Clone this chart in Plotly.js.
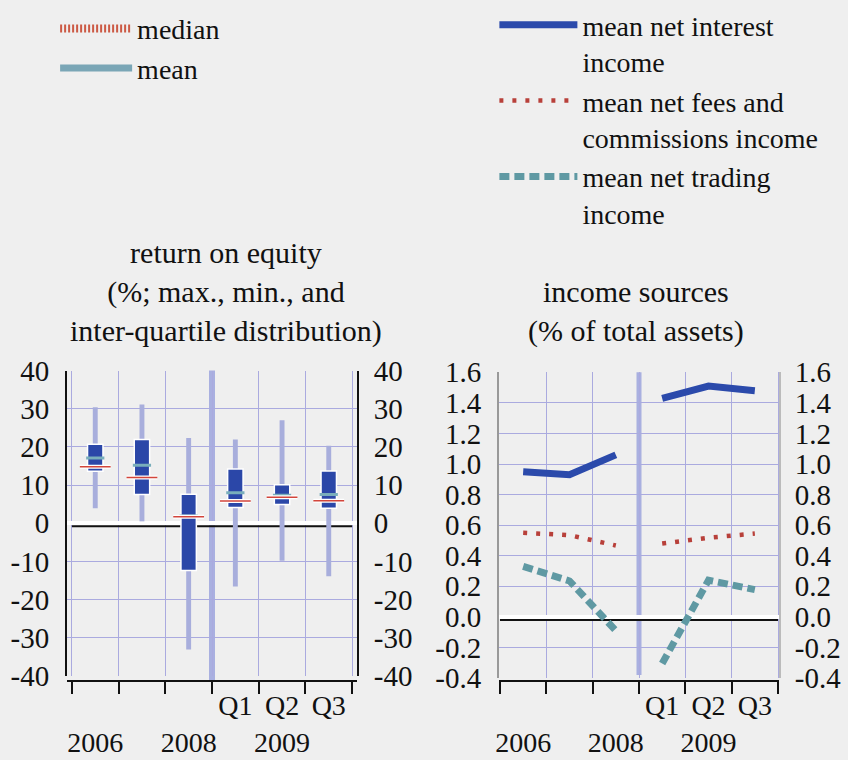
<!DOCTYPE html>
<html><head><meta charset="utf-8">
<script src="https://cdn.plot.ly/plotly-3.0.1.min.js"></script>
<style>html,body{margin:0;padding:0;background:#efefef;} #chart{width:848px;height:760px;}</style>
</head><body><div id="chart"></div>
<script>
// ---- data ----
const categories = ["2006", "2007", "2008", "Q1 2009", "Q2 2009", "Q3 2009"];
const xTickText = ["<br>2006", "", "<br>2008", "Q1", "Q2<br>2009", "Q3"];

// return on equity (%)
const roeMax    = [30.4, 31.1, 22.3, 21.9, 27.0, 20.3];
const roeMin    = [3.9, 0.5, -33.1, -16.6, -9.8, -13.9];
const roeQ3     = [20.7, 21.9, 7.6, 14.2, 10.1, 13.7];
const roeQ1     = [13.6, 7.5, -12.4, 4.1, 4.9, 3.9];
const roeMedian = [14.8, 12.0, 1.7, 5.8, 6.8, 5.9];
const roeMean   = [17.1, 15.2, 1.9, 8.0, 7.3, 7.5];
const roeTickVals = [-40, -30, -20, -10, 0, 10, 20, 30, 40];
const roeTickText = ["-40", "-30", "-20", "-10", "0", "10", "20", "30", "40"];

// income sources (% of total assets)
const netInterest = [0.95, 0.93, 1.06, 1.43, 1.51, 1.48];
const netFees     = [0.55, 0.535, 0.467, 0.48, 0.518, 0.545];
const netTrading  = [0.33, 0.235, -0.09, -0.305, 0.24, 0.178];
const incTickVals = [-0.4, -0.2, 0, 0.2, 0.4, 0.6, 0.8, 1.0, 1.2, 1.4, 1.6];
const incTickText = ["-0.4", "-0.2", "0.0", "0.2", "0.4", "0.6", "0.8", "1.0", "1.2", "1.4", "1.6"];

// ---- styling ----
const FONT = "'Liberation Serif', 'Times New Roman', Tinos, 'DejaVu Serif', serif";
const FS = 29;
const GRID = "#aaaadf";
const BOX = "#2b47a8";
const WHISK = "#a8aedc";

const diff = (a, b) => a.map((v, i) => v - b[i]);
const annual = arr => arr.slice(0, 3);
const quarterly = arr => arr.slice(3);
const xLo = -0.5, xHi = categories.length - 0.5;

const traces = [
  // whiskers (min-max)
  {type: "bar", x: categories, base: roeMin, y: diff(roeMax, roeMin), width: 0.105,
   marker: {color: WHISK}, xaxis: "x", yaxis: "y", showlegend: false, hoverinfo: "skip"},
  // box upper half (median -> Q3)
  {type: "bar", x: categories, base: roeMedian, y: diff(roeQ3, roeMedian), width: 0.33,
   marker: {color: BOX, line: {color: "#ffffff", width: 1.5}}, xaxis: "x", yaxis: "y", showlegend: false},
  // box lower half (Q1 -> median)
  {type: "bar", x: categories, base: roeQ1, y: diff(roeMedian, roeQ1), width: 0.33,
   marker: {color: BOX, line: {color: "#ffffff", width: 1.5}}, xaxis: "x", yaxis: "y", showlegend: false},
  // mean
  {type: "scatter", mode: "markers", x: categories, y: roeMean, xaxis: "x", yaxis: "y", showlegend: false,
   marker: {symbol: "line-ew", size: 13, line: {color: "#79aebb", width: 3}}},
  // median (white + red)
  {type: "scatter", mode: "markers", x: categories, y: roeMedian, xaxis: "x", yaxis: "y", showlegend: false,
   marker: {symbol: "line-ew", size: 22, line: {color: "#ffffff", width: 4}}},
  {type: "scatter", mode: "markers", x: categories, y: roeMedian, xaxis: "x", yaxis: "y", showlegend: false,
   marker: {symbol: "line-ew", size: 22, line: {color: "#d2453b", width: 1.5}}},
  // right-side axis holder for left panel
  {type: "scatter", mode: "none", x: categories, y: roeMedian, xaxis: "x", yaxis: "y2", showlegend: false, hoverinfo: "skip"},
  // legend entries (left)
  {type: "scatter", mode: "lines", x: [null], y: [null], xaxis: "x", yaxis: "y", name: "median", legend: "legend",
   line: {color: "#cc5a45", width: 8, dash: "2px,2px"}},
  {type: "scatter", mode: "lines", x: [null], y: [null], xaxis: "x", yaxis: "y", name: "mean", legend: "legend",
   line: {color: "#7aa6b6", width: 7}},

  // income sources
  {type: "scatter", mode: "lines", x: annual(categories), y: annual(netInterest), xaxis: "x2", yaxis: "y3",
   name: "mean net interest<br>income", legend: "legend2", legendgroup: "nii",
   line: {color: "#2b4aab", width: 7}},
  {type: "scatter", mode: "lines", x: quarterly(categories), y: quarterly(netInterest), xaxis: "x2", yaxis: "y3",
   legendgroup: "nii", showlegend: false, line: {color: "#2b4aab", width: 7}},
  {type: "scatter", mode: "lines", x: annual(categories), y: annual(netFees), xaxis: "x2", yaxis: "y3",
   name: "mean net fees and<br>commissions income", legend: "legend2", legendgroup: "fees",
   line: {color: "#b8403a", width: 4.5, dash: "4px,9px"}},
  {type: "scatter", mode: "lines", x: quarterly(categories), y: quarterly(netFees), xaxis: "x2", yaxis: "y3",
   legendgroup: "fees", showlegend: false, line: {color: "#b8403a", width: 4.5, dash: "4px,9px"}},
  {type: "scatter", mode: "lines", x: annual(categories), y: annual(netTrading), xaxis: "x2", yaxis: "y3",
   name: "mean net trading<br>income", legend: "legend2", legendgroup: "trd",
   line: {color: "#5f99a3", width: 7, dash: "10px,5px"}},
  {type: "scatter", mode: "lines", x: quarterly(categories), y: quarterly(netTrading), xaxis: "x2", yaxis: "y3",
   legendgroup: "trd", showlegend: false, line: {color: "#5f99a3", width: 7, dash: "10px,5px"}},
  {type: "scatter", mode: "none", x: categories, y: netFees, xaxis: "x2", yaxis: "y4", showlegend: false, hoverinfo: "skip"}
];

const xCommon = {
  type: "category", categoryorder: "array", categoryarray: categories,
  tickmode: "array", tickvals: categories, ticktext: xTickText, tickangle: 0,
  tickson: "boundaries", ticks: "outside", ticklen: 12, tickwidth: 2, tickcolor: "#111",
  showline: true, linecolor: "#111", linewidth: 2,
  showgrid: true, gridcolor: GRID, gridwidth: 1,
  tickfont: {family: FONT, size: 28, color: "#111"},
  anchor: "free", position: 0.1066, fixedrange: true
};
const yCommon = {
  showgrid: true, gridcolor: GRID, gridwidth: 1,
  tickmode: "array", ticks: "",
  tickfont: {family: FONT, size: FS, color: "#111"},
  showline: true, linewidth: 2, fixedrange: true
};
const legendCommon = {
  xanchor: "left", yanchor: "top", bgcolor: "rgba(0,0,0,0)",
  font: {family: FONT, size: 28, color: "#111"}, valign: "top", tracegroupgap: 0
};

const layout = {
  width: 848, height: 760,
  margin: {l: 0, r: 0, t: 0, b: 0},
  paper_bgcolor: "#efefef", plot_bgcolor: "#efefef",
  barmode: "overlay",
  showlegend: true,
  xaxis: Object.assign({}, xCommon, {domain: [67 / 848, 357 / 848]}),
  yaxis: Object.assign({}, yCommon, {domain: [0.1128, 0.5228], range: [-40, 40], anchor: "x",
    tickvals: roeTickVals, ticktext: roeTickText, linecolor: "#111", ticklabelstandoff: 10,
    zeroline: true, zerolinecolor: "#ffffff", zerolinewidth: 4}),
  yaxis2: Object.assign({}, yCommon, {overlaying: "y", side: "right", anchor: "x", matches: "y",
    range: [-40, 40], tickvals: roeTickVals, ticktext: roeTickText, linecolor: "#111",
    showgrid: false, zeroline: false, ticklabelstandoff: 9}),
  xaxis2: Object.assign({}, xCommon, {domain: [499 / 848, 779 / 848]}),
  yaxis3: Object.assign({}, yCommon, {domain: [0.110, 0.5204], range: [-0.4, 1.6], anchor: "x2",
    tickvals: incTickVals, ticktext: incTickText, linecolor: "#999", ticklabelstandoff: 10,
    zeroline: true, zerolinecolor: "#ffffff", zerolinewidth: 4}),
  yaxis4: Object.assign({}, yCommon, {overlaying: "y3", side: "right", anchor: "x2", matches: "y3",
    range: [-0.4, 1.6], tickvals: incTickVals, ticktext: incTickText, linecolor: "#bbb",
    showgrid: false, zeroline: false, ticklabelstandoff: 8}),
  legend: Object.assign({}, legendCommon, {x: 0.065, y: 1.015, itemwidth: 72}),
  legend2: Object.assign({}, legendCommon, {x: 0.583, y: 1.02, itemwidth: 78}),
  shapes: [
    {type: "line", xref: "x", yref: "paper", x0: 2.5, x1: 2.5, y0: 0.106, y1: 0.5228,
     line: {color: "#a9b0e0", width: 6}, layer: "between"},
    {type: "line", xref: "x2", yref: "paper", x0: 2.5, x1: 2.5, y0: 0.114, y1: 0.5204,
     line: {color: "#a9b0e0", width: 5}, layer: "between"},
    {type: "line", xref: "x", x0: xLo, x1: xHi, yref: "y", ysizemode: "pixel", yanchor: 0, y0: -3, y1: -3,
     line: {color: "#111", width: 2}, layer: "between"},
    {type: "line", xref: "x2", x0: xLo, x1: xHi, yref: "y3", ysizemode: "pixel", yanchor: 0, y0: -3, y1: -3,
     line: {color: "#111", width: 2}, layer: "between"}
  ],
  annotations: [
    {text: "return on equity<br>(%; max., min., and<br>inter-quartile distribution)", xref: "paper", yref: "paper",
     x: 226 / 848, y: (760 - 342) / 760, xanchor: "center", yanchor: "bottom", showarrow: false, align: "center",
     font: {family: FONT, size: 30, color: "#111"}},
    {text: "income sources<br>(% of total assets)", xref: "paper", yref: "paper",
     x: 636 / 848, y: (760 - 342) / 760, xanchor: "center", yanchor: "bottom", showarrow: false, align: "center",
     font: {family: FONT, size: 30, color: "#111"}}
  ]
};

Plotly.newPlot("chart", traces, layout, {displayModeBar: false, staticPlot: true});
</script>
</body></html>
